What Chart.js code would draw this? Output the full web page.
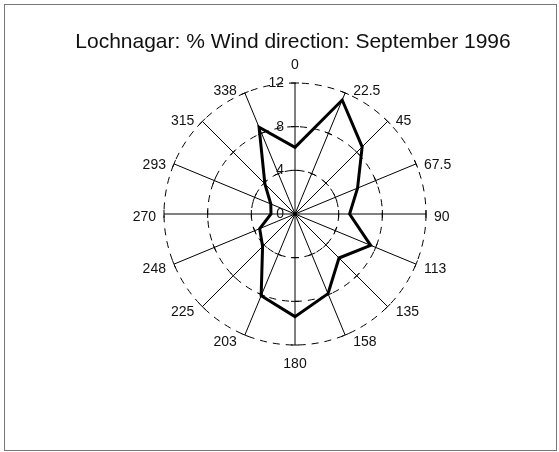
<!DOCTYPE html>
<html>
<head>
<meta charset="utf-8">
<script src="https://cdn.jsdelivr.net/npm/chart.js@4/dist/chart.umd.min.js"></script>
<style>
  body { margin: 0; background: #fff; }
  #wrap { position: relative; width: 559px; height: 452px; }
  #frame { position: absolute; left: 4px; top: 4px; width: 553px; height: 447px; box-sizing: border-box; border: 1px solid #777; }
  canvas { position: absolute; left: 0; top: 0; }
</style>
</head>
<body>
<div id="wrap">
  <div id="frame"></div>
  <canvas id="windChart" width="559" height="452"></canvas>
</div>
<script>
const chartTitle = "Lochnagar: % Wind direction: September 1996";
// Wind direction sectors (degrees, as labelled)
const directions = ["0", "22.5", "45", "67.5", "90", "113", "135", "158", "180", "203", "225", "248", "270", "293", "315", "338"];
// % of time wind came from each sector
const windPercent = [6.1, 11.3, 8.7, 6.2, 5.0, 7.5, 5.7, 7.9, 9.4, 8.1, 4.2, 3.5, 2.2, 2.4, 3.9, 8.6];
const tickValues = [0, 4, 8, 12];

const FONT = "'Liberation Sans', Arial, sans-serif";

// Draws title, tick marks across spokes, direction labels and radial tick labels
const roseDecor = {
  id: "roseDecor",
  beforeDatasetsDraw(chart) {
    const r = chart.scales.r;
    const ctx = chart.ctx;
    ctx.save();
    ctx.strokeStyle = "#000";
    ctx.lineWidth = 1;
    directions.forEach((d, i) => {
      const a = r.getIndexAngle(i) - Math.PI / 2;
      tickValues.slice(1).forEach((v) => {
        const p = r.getPointPositionForValue(i, v);
        const nx = -Math.sin(a), ny = Math.cos(a);
        ctx.beginPath();
        ctx.moveTo(p.x - nx * 4, p.y - ny * 4);
        ctx.lineTo(p.x + nx * 4, p.y + ny * 4);
        ctx.stroke();
      });
    });
    ctx.restore();
  },
  afterDraw(chart) {
    const r = chart.scales.r;
    const ctx = chart.ctx;
    ctx.save();
    ctx.fillStyle = "#111";

    // title
    ctx.font = "21px " + FONT;
    ctx.textAlign = "center";
    ctx.textBaseline = "alphabetic";
    ctx.fillText(chartTitle, 293, 48);

    // direction labels
    ctx.font = "14px " + FONT;
    ctx.textBaseline = "middle";
    directions.forEach((d, i) => {
      const theta = r.getIndexAngle(i);
      const p = r.getPointPositionForValue(i, r.max);
      const s = Math.sin(theta), c = Math.cos(theta);
      if (Math.abs(s) < 0.01) {
        ctx.textAlign = "center";
        ctx.fillText(d, p.x, p.y - c * 18.5 + 1);
      } else {
        ctx.textAlign = s > 0 ? "left" : "right";
        ctx.fillText(d, p.x + (s > 0 ? 8 : -8), p.y + 1.8 - 4.5 * c + 1);
      }
    });

    // radial value labels
    ctx.font = "14px " + FONT;
    ctx.textAlign = "right";
    tickValues.forEach((v) => {
      const y = r.yCenter - r.getDistanceFromCenterForValue(v);
      ctx.fillText(String(v), r.xCenter - 11, y);
    });
    ctx.restore();
  }
};

new Chart(document.getElementById("windChart"), {
  type: "radar",
  data: {
    labels: directions,
    datasets: [
      {
        label: "% Wind direction",
        data: windPercent,
        borderColor: "#000",
        borderWidth: 3,
        borderJoinStyle: "miter",
        pointRadius: 0,
        fill: false,
        tension: 0,
      },
    ],
  },
  options: {
    responsive: false,
    animation: false,
    layout: { padding: { left: 164, right: 133, top: 83, bottom: 107 } },
    plugins: { legend: { display: false }, title: { display: false }, tooltip: { enabled: false } },
    scales: {
      r: {
        min: 0,
        max: 12,
        ticks: { stepSize: 4, display: false },
        grid: { circular: true, color: "#000", lineWidth: 1, borderDash: [7, 6] },
        border: { dash: [7, 6] },
        angleLines: { color: "#000", lineWidth: 1 },
        pointLabels: { display: false },
      },
    },
  },
  plugins: [roseDecor],
});
</script>
</body>
</html>
